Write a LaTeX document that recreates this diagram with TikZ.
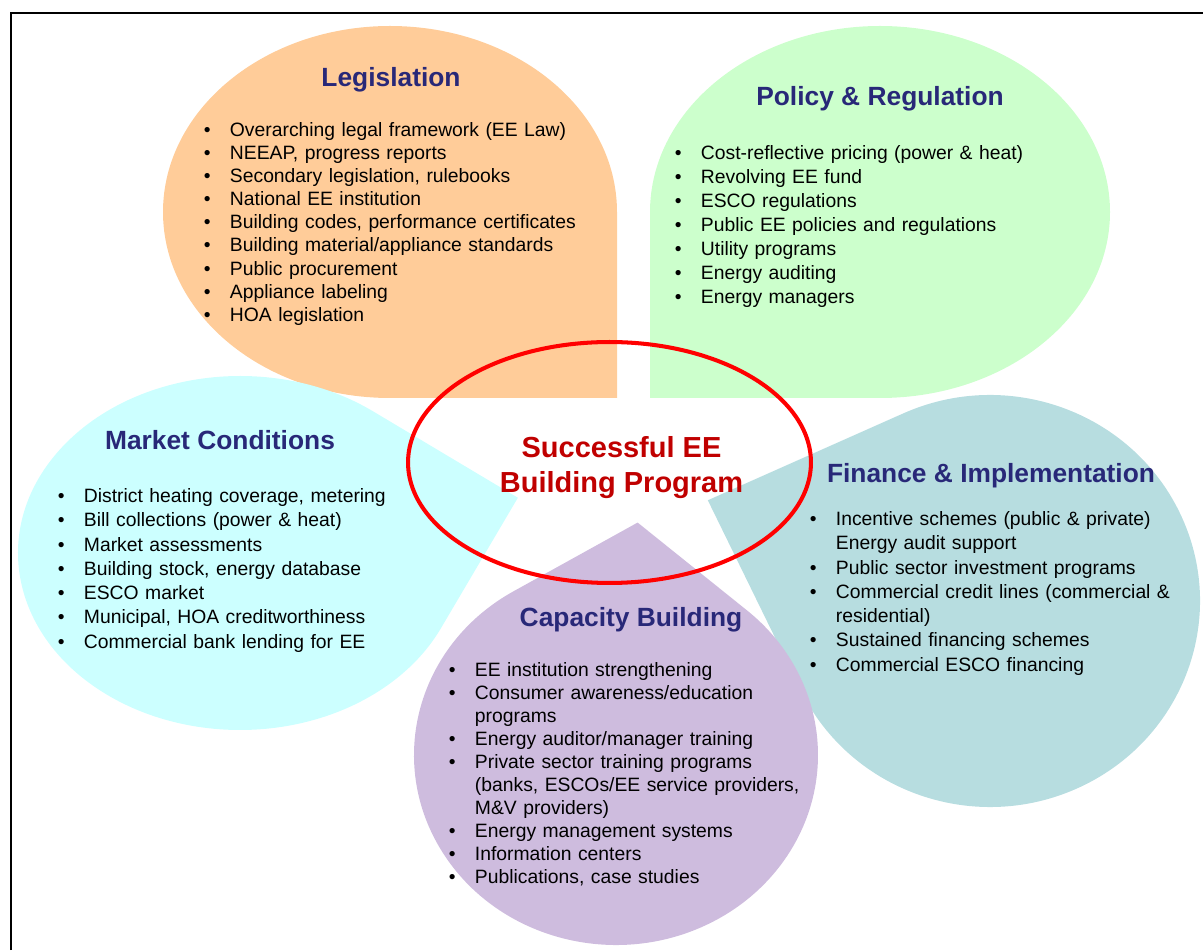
\documentclass[tikz,border=0pt]{standalone}
\usepackage{fontspec}
\setmainfont{Liberation Sans}
\usepackage{enumitem}
\setlist[itemize]{label=\textbullet, leftmargin=14pt, labelsep=11pt, itemsep=0pt, topsep=0pt, parsep=0pt, partopsep=0pt}
\usetikzlibrary{positioning,shapes.geometric}
\definecolor{legisfill}{RGB}{255,204,153}
\definecolor{policyfill}{RGB}{204,255,204}
\definecolor{marketfill}{RGB}{204,255,255}
\definecolor{financefill}{RGB}{183,221,224}
\definecolor{capacityfill}{RGB}{206,188,222}
\definecolor{navy}{RGB}{40,40,120}
\definecolor{darkred}{RGB}{192,0,0}

% teardrop: tip angle, tip distance (1.4142 = square corner)
\tikzset{
	pics/petal/.style 2 args={code={
			\pgfmathsetmacro\halfang{acos(1/#2)}
			\path[pic actions] (#1-\halfang:1) -- (#1:#2) -- (#1+\halfang:1)
			arc[start angle=#1+\halfang, delta angle=360-2*\halfang, radius=1] -- cycle;
	}}
}

\begin{document}
\begin{tikzpicture}[x=0.02cm, y=0.02cm,
			title/.style={font=\fontsize{15}{18}\selectfont\bfseries, text=navy, inner sep=0pt, anchor=base},
			items/.style={font=\fontsize{11}{13.8}\selectfont, inner sep=0pt, anchor=north west, text width=8cm, align=left},
			hub/.style={ellipse, draw=red, line width=2.3pt, minimum width=8.06cm, minimum height=4.82cm, inner sep=0pt},
			hubtext/.style={font=\fontsize{16.5}{19.5}\selectfont\bfseries, text=darkred, align=center, inner sep=0pt}
			]
		\useasboundingbox (0,0) rectangle (1203,950);
		\draw[line width=1.1pt] (11,0) -- (11,937) -- (1203,937);
		
		\pic[fill=legisfill, xscale=227, yscale=186] at (390,738) {petal={-45}{1.4142}};
		\pic[fill=policyfill, xscale=230, yscale=186] at (880,738) {petal={-135}{1.4142}};
		\pic[fill=marketfill, xscale=222, yscale=177] at (240,397) {petal={14}{1.29}};
		\pic[fill=financefill, xscale=210, yscale=206] at (990,349) {petal={160}{1.43}};
		\pic[fill=capacityfill, xscale=202, yscale=190] at (616,195) {petal={85}{1.228}};
		
		\node[title] (legis) at (391,863) {Legislation};
		\node[items, font=\fontsize{11}{13.15}\selectfont] (legisList) at (205,837) {\begin{itemize}
				\item Overarching legal framework (EE Law)
				\item NEEAP, progress reports
				\item Secondary legislation, rulebooks
				\item National EE institution
				\item Building codes, performance certificates
				\item Building material/appliance standards
				\item Public procurement
				\item Appliance labeling
				\item HOA legislation
			\end{itemize}};
		
		\node[title] (policy) at (880,844) {Policy \& Regulation};
		\node[items, font=\fontsize{11}{13.7}\selectfont] (policyList) at (676,815) {\begin{itemize}
				\item Cost-reflective pricing (power \& heat)
				\item Revolving EE fund
				\item ESCO regulations
				\item Public EE policies and regulations
				\item Utility programs
				\item Energy auditing
				\item Energy managers
			\end{itemize}};
		
		\node[title] (market) at (220,500) {Market Conditions};
		\node[items] (marketList) at (59,472) {\begin{itemize}
				\item District heating coverage, metering
				\item Bill collections (power \& heat)
				\item Market assessments
				\item Building stock, energy database
				\item ESCO market
				\item Municipal, HOA creditworthiness
				\item Commercial bank lending for EE
			\end{itemize}};
		
		\node[title] (finance) at (991,467) {Finance \& Implementation};
		\node[items] (financeList) at (811,449) {\begin{itemize}
				\item Incentive schemes (public \& private)\newline Energy audit support
				\item Public sector investment programs
				\item Commercial credit lines (commercial \&\newline residential)
				\item Sustained financing schemes
				\item Commercial ESCO financing
			\end{itemize}};
		
		\node[title] (capacity) at (631,323) {Capacity Building};
		\node[items, font=\fontsize{11}{13.1}\selectfont] (capacityList) at (450,297) {\begin{itemize}
				\item EE institution strengthening
				\item Consumer awareness/education\newline programs
				\item Energy auditor/manager training
				\item Private sector training programs\newline (banks, ESCOs/EE service providers,\newline M\&V providers)
				\item Energy management systems
				\item Information centers
				\item Publications, case studies
			\end{itemize}};
		
		\node[hub] (hub) at (609.5,487.5) {};
		\node[hubtext] (hubtitle) at (621.5,482.5) {Successful EE\\Building Program};
	\end{tikzpicture}
\end{document}
